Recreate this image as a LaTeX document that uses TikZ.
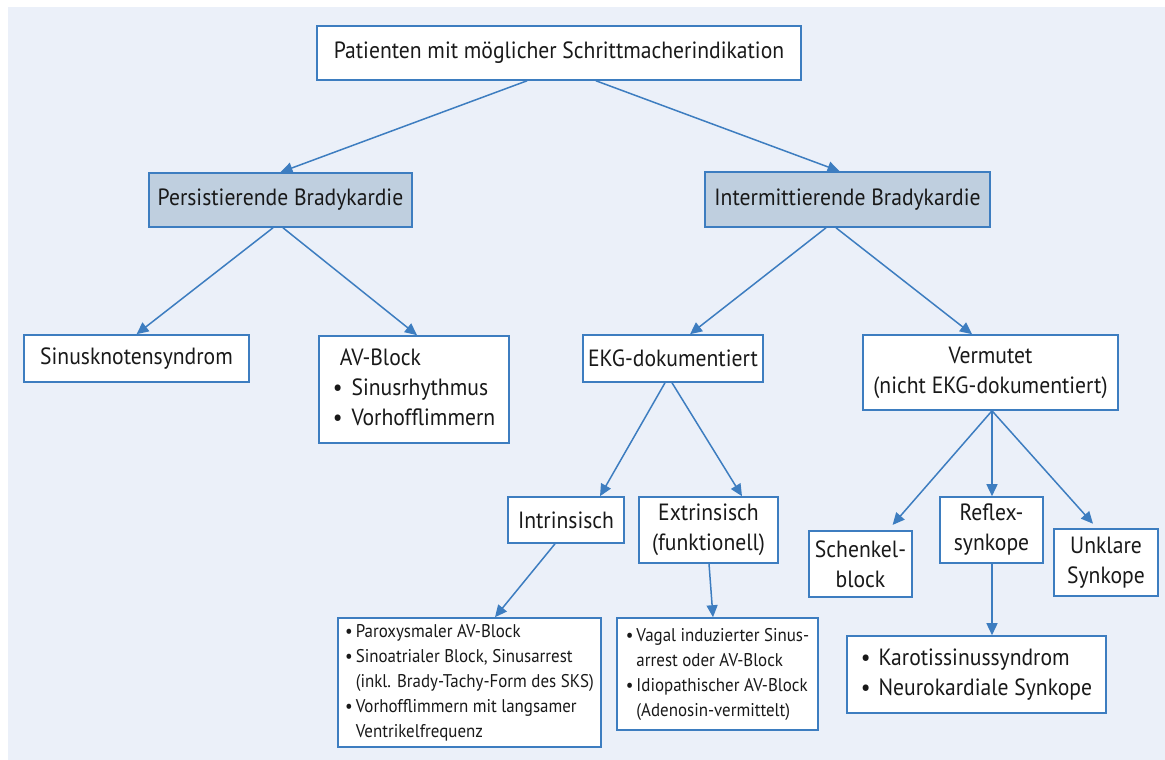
\documentclass[tikz,border=0pt]{standalone}
\usepackage{fontspec}
\setmainfont[FakeStretch=0.92]{PT Sans}
\usetikzlibrary{arrows.meta}
\definecolor{bg}{RGB}{235,240,249}
\definecolor{bl}{RGB}{61,125,192}
\definecolor{hd}{RGB}{191,207,223}
\definecolor{tx}{RGB}{25,25,25}
\tikzset{
  box/.style={draw=bl, line width=1.6pt, fill=white, text=tx, inner sep=0pt,
    font=\fontsize{23.5}{30}\selectfont, align=center},
  headbox/.style={box, fill=hd},
  smallbox/.style={box, font=\fontsize{18.4}{25}\selectfont},
  arr/.style={draw=bl, line width=1.5pt, -{Triangle[length=12pt,width=11pt]}},
}
\begin{document}
\begin{tikzpicture}[x=1pt,y=-1pt]
\useasboundingbox (0,0) rectangle (1165,760);
\fill[white] (0,0) rectangle (1165,760);
\fill[bg] (8,7) rectangle (1165,760);

\node[box, minimum width=484pt, minimum height=54pt] (top) at (559,53)
  {Patienten mit möglicher Schrittmacherindikation};
\node[headbox, minimum width=263pt, minimum height=54pt] (pers) at (280.5,200)
  {Persistierende Bradykardie};
\node[headbox, minimum width=285pt, minimum height=55pt] (inter) at (847.5,199.5)
  {Intermittierende Bradykardie};
\node[box, minimum width=225pt, minimum height=47pt] (sinus) at (136.5,358.5)
  {Sinusknotensyndrom};
\node[box, minimum width=190pt, minimum height=107pt, align=left] (av) at (414,389.5)
  {\begin{tabular}{@{}l@{\hspace{9pt}}l@{}}
   \multicolumn{2}{@{\hspace{7pt}}l@{}}{AV-Block}\\
   \textbullet & Sinusrhythmus\\
   \textbullet & Vorhofflimmern
   \end{tabular}};
\node[box, minimum width=180pt, minimum height=47pt] (ekg) at (673,358.5)
  {EKG-dokumentiert};
\node[box, minimum width=255pt, minimum height=75pt] (verm) at (990.5,372.5)
  {Vermutet\\(nicht EKG-dokumentiert)};
\node[box, minimum width=116pt, minimum height=46pt] (intr) at (566,520)
  {Intrinsisch};
\node[box, minimum width=139pt, minimum height=66pt] (extr) at (708.5,530)
  {Extrinsisch\\(funktionell)};
\node[box, minimum width=103pt, minimum height=66pt] (schenkel) at (860.5,564)
  {Schenkel-\\block};
\node[box, minimum width=103pt, minimum height=66pt] (reflex) at (991.5,530)
  {Reflex-\\synkope};
\node[box, minimum width=104pt, minimum height=67pt] (unklar) at (1106,562.5)
  {Unklare\\Synkope};
\node[box, minimum width=259pt, minimum height=77pt, align=left] (karotis) at (976.5,674.5)
  {\begin{tabular}{@{}l@{\hspace{8pt}}l@{}}
   \textbullet & Karotissinussyndrom\\
   \textbullet & Neurokardiale Synkope
   \end{tabular}};
\node[smallbox, minimum width=263pt, minimum height=129pt, align=left] (parox) at (469.5,682.5)
  {\begin{tabular}{@{}l@{\hspace{3pt}}l@{}}
   \textbullet & Paroxysmaler AV-Block\\
   \textbullet & Sinoatrialer Block, Sinusarrest\\
   & (inkl. Brady-Tachy-Form des SKS)\\
   \textbullet & Vorhofflimmern mit langsamer\\
   & Ventrikelfrequenz
   \end{tabular}};
\node[smallbox, minimum width=201pt, minimum height=112pt, align=left] (vagal) at (717.5,674)
  {\begin{tabular}{@{}l@{\hspace{3pt}}l@{}}
   \textbullet & Vagal induzierter Sinus-\\
   & arrest oder AV-Block\\
   \textbullet & Idiopathischer AV-Block\\
   & (Adenosin-vermittelt)
   \end{tabular}};

\draw[arr] ([xshift=-32pt]top.south) -- (pers.north);
\draw[arr] ([xshift=37pt]top.south) -- ([xshift=-8pt]inter.north);
\draw[arr] ([xshift=-7.5pt]pers.south) -- (sinus.north);
\draw[arr] ([xshift=2.5pt]pers.south) -- ([xshift=3pt]av.north);
\draw[arr] ([xshift=-21.5pt]inter.south) -- ([xshift=17pt]ekg.north);
\draw[arr] ([xshift=-11.5pt]inter.south) -- ([xshift=-18.5pt]verm.north);
\draw[arr] ([xshift=-8pt]ekg.south) -- ([xshift=34pt]intr.north);
\draw[arr] ([xshift=-1pt]ekg.south) -- ([xshift=33.5pt]extr.north);
\draw[arr] ([xshift=-11pt]intr.south) -- ([xshift=25.5pt]parox.north);
\draw[arr] ([xshift=0.5pt]extr.south) -- ([xshift=-4.5pt]vagal.north);
\coordinate (vs) at ([xshift=1.5pt]verm.south);
\draw[arr, shorten >=7pt] (vs) -- ([xshift=27.5pt]schenkel.north);
\draw[arr] (vs) -- ([xshift=0.5pt]reflex.north);
\draw[arr, shorten >=6pt] (vs) -- ([xshift=-9pt]unklar.north);
\draw[arr] ([xshift=0.5pt]reflex.south) -- ([xshift=15.5pt]karotis.north);
\end{tikzpicture}
\end{document}
